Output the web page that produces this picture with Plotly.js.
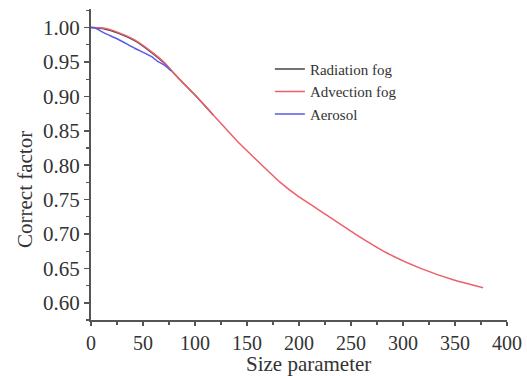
<!DOCTYPE html>
<html>
<head>
<meta charset="utf-8">
<script src="https://cdn.plot.ly/plotly-3.0.1.min.js"></script>
<style>html,body{margin:0;padding:0;background:#fff;}#chart{width:527px;height:376px;}</style>
</head>
<body>
<div id="chart"></div>
<script>
// Radiation fog
const radX = [0, 13, 26, 42, 58, 70, 77, 87, 100, 117.5];
const radY = [1.000, 0.998, 0.992, 0.981, 0.964, 0.949, 0.938, 0.922, 0.902, 0.873];
// Advection fog
const advX = [0, 13, 26, 42, 58, 70, 77, 87, 100, 117.5, 140, 150, 182, 198, 214, 227, 253, 285, 317, 349, 377];
const advY = [1.000, 0.999, 0.993, 0.982, 0.965, 0.950, 0.938, 0.922, 0.902, 0.873, 0.836, 0.821, 0.775, 0.756, 0.740, 0.727, 0.701, 0.672, 0.650, 0.633, 0.622];
// Aerosol
const aerX = [0, 3, 13, 26, 42, 58, 64, 70, 77];
const aerY = [1.000, 1.000, 0.992, 0.983, 0.970, 0.958, 0.951, 0.946, 0.937];

const xTicks = [0, 50, 100, 150, 200, 250, 300, 350, 400];
const yTicks = [0.60, 0.65, 0.70, 0.75, 0.80, 0.85, 0.90, 0.95, 1.00];
const yTickText = ["0.60", "0.65", "0.70", "0.75", "0.80", "0.85", "0.90", "0.95", "1.00"];

const FAM = "Liberation Serif";

const traces = [
  {x: radX, y: radY, name: "Radiation fog", mode: "lines", line: {color: "#444444", width: 1.5, shape: "spline", smoothing: 0.6}},
  {x: advX, y: advY, name: "Advection fog", mode: "lines", line: {color: "#ec5f6b", width: 1.5, shape: "spline", smoothing: 0.6}},
  {x: aerX, y: aerY, name: "Aerosol", mode: "lines", line: {color: "#5a5ae8", width: 1.5, shape: "spline", smoothing: 0.6}}
];

const axisCommon = {
  showgrid: false, zeroline: false,
  showline: true, linecolor: "#555555", linewidth: 2,
  ticks: "outside", ticklen: 5, tickwidth: 1.5, tickcolor: "#555555",
  tickfont: {family: FAM, size: 21, color: "#333333"},
  minor: {ticks: "outside", ticklen: 3, tickwidth: 1.2, tickcolor: "#555555", showgrid: false}
};

const layout = {
  width: 527, height: 376,
  margin: {l: 91, r: 20, t: 9, b: 56},
  paper_bgcolor: "#ffffff", plot_bgcolor: "#ffffff",
  font: {family: FAM, size: 15, color: "#333333"},
  showlegend: true,
  legend: {x: 0.43, y: 0.859, xanchor: "left", yanchor: "top", bgcolor: "rgba(0,0,0,0)",
           font: {family: FAM, size: 15, color: "#333333"}, tracegroupgap: 0, itemwidth: 30},
  xaxis: Object.assign({}, axisCommon, {
    range: [0, 400], tickvals: xTicks, ticktext: xTicks.map(String),
    ticklen: 4, tickfont: {family: FAM, size: 20, color: "#333333"},
    minor: Object.assign({}, axisCommon.minor, {dtick: 25, tick0: 0, ticklen: 2.5})
  }),
  yaxis: Object.assign({}, axisCommon, {
    range: [0.575, 1.027], tickvals: yTicks, ticktext: yTickText,
    minor: Object.assign({}, axisCommon.minor, {dtick: 0.025, tick0: 0.575})
  }),
  annotations: [
    {text: "Size parameter", xref: "paper", yref: "paper", x: (308 - 91) / 416, y: -(364 - 320) / 311,
     xanchor: "center", yanchor: "middle", showarrow: false, font: {family: FAM, size: 21, color: "#333333"}},
    {text: "Correct factor", xref: "paper", yref: "paper", x: -(91 - 25) / 416, y: (320 - 190) / 311,
     xanchor: "center", yanchor: "middle", textangle: -90, showarrow: false, font: {family: FAM, size: 21, color: "#333333"}}
  ]
};

Plotly.newPlot("chart", traces, layout, {displayModeBar: false, staticPlot: true});
</script>
</body>
</html>
